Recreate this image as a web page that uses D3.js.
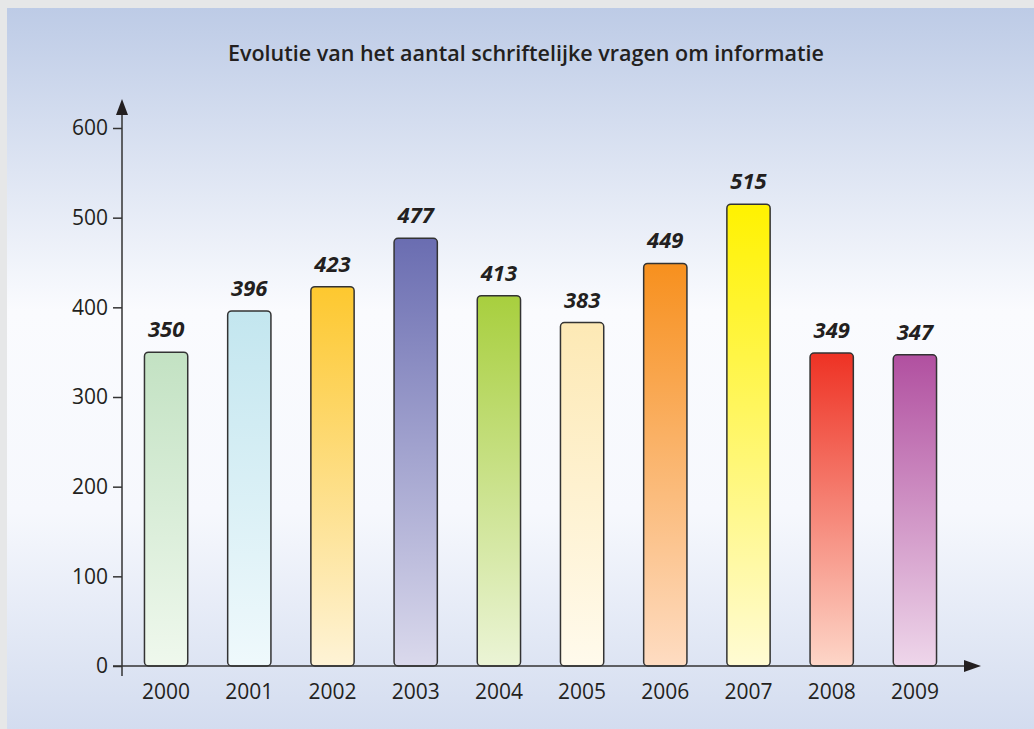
<!DOCTYPE html>
<html><head><meta charset="utf-8">
<script src="https://cdn.jsdelivr.net/npm/d3@7"></script>
<style>html,body{margin:0;padding:0;background:#e6e7e8;}svg{display:block;}</style>
</head><body>
<svg id="c" width="1034" height="729"></svg>
<script>
const title = "Evolutie van het aantal schriftelijke vragen om informatie";
const years = ["2000","2001","2002","2003","2004","2005","2006","2007","2008","2009"];
const values = [350,396,423,477,413,383,449,515,349,347];
const topColors = ["#c3e2c3","#c3e6ef","#fdc82f","#6a6db1","#a8cf3e","#fde9b5","#f7901e","#fff200","#ee3224","#b150a0"];
const bottomColors = ["#eff8ed","#eff9fc","#fef3d6","#dad9ec","#ebf4d6","#fffaec","#fedcc2","#fffbd4","#fdd6c8","#eed6ea"];
const yTicks = [0,100,200,300,400,500,600];

const W = 1034, H = 729;
const svg = d3.select("#c");
const defs = svg.append("defs");

const bg = defs.append("linearGradient").attr("id","bg").attr("x1",0).attr("y1",0).attr("x2",0).attr("y2",1);
bg.append("stop").attr("offset","0%").attr("stop-color","#bdcbe6");
bg.append("stop").attr("offset","42%").attr("stop-color","#fafbfe");
bg.append("stop").attr("offset","70%").attr("stop-color","#f6f8fd");
bg.append("stop").attr("offset","100%").attr("stop-color","#d3dcef");

svg.append("rect").attr("x",0).attr("y",0).attr("width",W).attr("height",H).attr("fill","#e6e7e8");
svg.append("rect").attr("x",7).attr("y",8).attr("width",W-7).attr("height",H-8).attr("fill","url(#bg)");

svg.append("text").attr("x",526).attr("y",61).attr("text-anchor","middle")
  .attr("font-family","'Open Sans', sans-serif").attr("font-weight",600).attr("font-size",21.5)
  .attr("fill","#231f20").text(title);

const axisX = 122, baseY = 666;
const y = d3.scaleLinear().domain([0,600]).range([baseY,128]);
const x = d3.scaleBand().domain(years).range([124.5,956.5]).paddingInner(0.48).paddingOuter(0.24);

years.forEach((yr,i)=>{
  const g = defs.append("linearGradient").attr("id","g"+i).attr("x1",0).attr("y1",0).attr("x2",0).attr("y2",1);
  g.append("stop").attr("offset","0%").attr("stop-color",topColors[i]);
  g.append("stop").attr("offset","100%").attr("stop-color",bottomColors[i]);
});

const ink = "#333";
svg.selectAll("rect.bar").data(values).join("rect").attr("class","bar")
  .attr("x",(d,i)=>x(years[i])).attr("width",x.bandwidth())
  .attr("y",d=>y(d)).attr("height",d=>baseY-y(d))
  .attr("rx",4).attr("ry",4)
  .attr("fill",(d,i)=>"url(#g"+i+")").attr("stroke",ink).attr("stroke-width",1.5);

svg.selectAll("text.val").data(values).join("text").attr("class","val")
  .attr("x",(d,i)=>x(years[i])+x.bandwidth()/2).attr("y",d=>y(d)-15)
  .attr("text-anchor","middle").attr("font-family","'Open Sans', sans-serif")
  .attr("font-style","italic").attr("font-weight",700).attr("font-size",22)
  .attr("fill","#231f20").text(d=>d);

const yAxis = d3.axisLeft(y).tickValues(yTicks).tickSize(9).tickPadding(5).tickFormat(d3.format("d"));
const ga = svg.append("g").attr("transform",`translate(${axisX},0)`).call(yAxis);
ga.select(".domain").remove();
ga.selectAll(".tick line").attr("stroke",ink).attr("stroke-width",1.5);
ga.selectAll(".tick text").attr("font-family","'Open Sans', sans-serif").attr("font-size",21).attr("fill","#231f20");
svg.append("line").attr("x1",axisX).attr("x2",axisX).attr("y1",676).attr("y2",112).attr("stroke",ink).attr("stroke-width",1.5);
svg.append("path").attr("d",`M${axisX-6},115 L${axisX},99 L${axisX+6},115 Z`).attr("fill","#231f20");

const xAxis = d3.axisBottom(x).tickSize(0).tickPadding(18);
const gx = svg.append("g").attr("transform",`translate(0,${baseY})`).call(xAxis);
gx.select(".domain").remove();
gx.selectAll(".tick text").attr("font-family","'Open Sans', sans-serif").attr("font-size",21).attr("fill","#231f20");
svg.append("line").attr("x1",113).attr("x2",968).attr("y1",baseY).attr("y2",baseY).attr("stroke",ink).attr("stroke-width",1.5);
svg.append("path").attr("d",`M964,${baseY-6} L981,${baseY} L964,${baseY+6} Z`).attr("fill","#231f20");
</script>
</body></html>
